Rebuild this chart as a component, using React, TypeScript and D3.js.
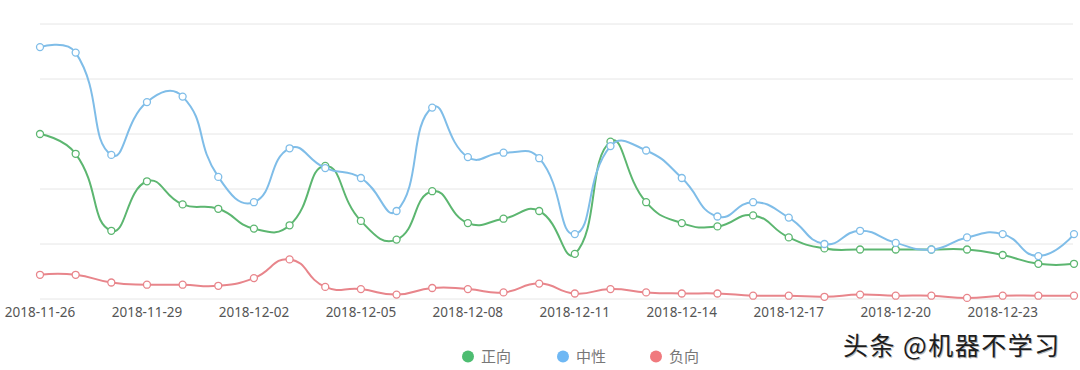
import * as d3 from "d3";

const dates = [
  "2018-11-26", "2018-11-27", "2018-11-28", "2018-11-29", "2018-11-30",
  "2018-12-01", "2018-12-02", "2018-12-03", "2018-12-04", "2018-12-05",
  "2018-12-06", "2018-12-07", "2018-12-08", "2018-12-09", "2018-12-10",
  "2018-12-11", "2018-12-12", "2018-12-13", "2018-12-14", "2018-12-15",
  "2018-12-16", "2018-12-17", "2018-12-18", "2018-12-19", "2018-12-20",
  "2018-12-21", "2018-12-22", "2018-12-23", "2018-12-24", "2018-12-25",
];

const positive = [150, 132, 62, 107, 86, 82, 64, 67, 121, 71, 54, 98, 69, 73, 80, 41, 143, 88, 69, 66, 76, 56, 46, 45, 45, 45, 45, 40, 32, 32];
const neutral = [229, 224, 131, 179, 184, 111, 88, 137, 119, 110, 80, 174, 129, 133, 128, 59, 139, 135, 110, 75, 88, 74, 50, 62, 51, 45, 56, 59, 39, 59];
const negative = [22, 22, 15, 13, 13, 12, 19, 36, 11, 9, 4, 10, 9, 6, 14, 5, 9, 6, 5, 5, 3, 3, 2, 4, 3, 3, 1, 3, 3, 3];

const seriesNames = ["正向", "中性", "负向"];
const yTicks = [0, 50, 100, 150, 200, 250];

const lineColors = ["#5cb670", "#7fbde8", "#e8858b"];
const legendColors = ["#4dbd71", "#6fb8f4", "#f07a7e"];

// echarts-style smoothing: control points along (next - prev), split by segment lengths
function smoothCurve(context: any) {
  let pts: [number, number][] = [];
  return {
    areaStart() {},
    areaEnd() {},
    lineStart() { pts = []; },
    point(x: number, y: number) { pts.push([x, y]); },
    lineEnd() {
      const s = 0.5;
      const n = pts.length;
      if (!n) return;
      context.moveTo(pts[0][0], pts[0][1]);
      const cps = pts.map((p, i) => {
        if (i === 0 || i === n - 1) return { a: p, b: p };
        const prev = pts[i - 1];
        const next = pts[i + 1];
        const vx = next[0] - prev[0];
        const vy = next[1] - prev[1];
        const l0 = Math.hypot(p[0] - prev[0], p[1] - prev[1]);
        const l1 = Math.hypot(next[0] - p[0], next[1] - p[1]);
        const r = l1 / (l0 + l1);
        return {
          a: [p[0] - vx * s * (1 - r), p[1] - vy * s * (1 - r)],
          b: [p[0] + vx * s * r, p[1] + vy * s * r],
        };
      });
      for (let i = 1; i < n; i++) {
        const c0 = cps[i - 1].b;
        const c1 = cps[i].a;
        context.bezierCurveTo(c0[0], c0[1], c1[0], c1[1], pts[i][0], pts[i][1]);
      }
    },
  };
}

export default function App() {
  const width = 1080;
  const height = 370;

  const x = d3.scalePoint<string>().domain(dates).range([40, 1074]);
  const y = d3.scaleLinear().domain([0, 250]).range([299, 24]);

  const line = d3
    .line<number>()
    .x((_, i) => x(dates[i])!)
    .y((d) => y(d))
    .curve(smoothCurve as any);

  const series = [positive, neutral, negative];
  const legendX = [468, 563, 656];

  return (
    <svg
      width={width}
      height={height}
      style={{ position: "absolute", left: 0, top: 0, background: "#fff" }}
      fontFamily="'Noto Sans', 'Noto Sans CJK SC', sans-serif"
    >
      {/* grid */}
      {yTicks.map((t) => (
        <line key={t} x1={40} x2={1073} y1={y(t)} y2={y(t)} stroke="#e6e6e6" strokeWidth={1} />
      ))}

      {/* x labels */}
      {dates.map((d, i) =>
        i % 3 === 0 ? (
          <text key={d} x={x(d)} y={317} textAnchor="middle" fontSize={13.5} fill="#555">
            {d}
          </text>
        ) : null
      )}

      {/* lines */}
      {series.map((s, si) => (
        <g key={si}>
          <path d={line(s) ?? ""} fill="none" stroke={lineColors[si]} strokeWidth={2} />
          {s.map((v, i) => (
            <circle key={i} cx={x(dates[i])} cy={y(v)} r={3.5} fill="#fff" stroke={lineColors[si]} strokeWidth={1.3} />
          ))}
        </g>
      ))}

      {/* legend */}
      {seriesNames.map((name, i) => (
        <g key={name}>
          <circle cx={legendX[i]} cy={356.5} r={6} fill={legendColors[i]} />
          <text
            x={legendX[i] + 13}
            y={362}
            fontSize={15}
            fill="#777"
            fontFamily="'Noto Sans CJK SC', sans-serif"
          >
            {name}
          </text>
        </g>
      ))}

      {/* watermark */}
      <text
        x={843}
        y={355}
        fontSize={25}
        letterSpacing={1.5}
        fill="#bbb"
        fontFamily="'Noto Sans CJK SC', sans-serif"
        transform="translate(1,1)"
      >
        头条 @机器不学习
      </text>
      <text x={843} y={355} fontSize={25} letterSpacing={1.5} fill="#1e1e1e" fontFamily="'Noto Sans CJK SC', sans-serif">
        头条 @机器不学习
      </text>
    </svg>
  );
}
